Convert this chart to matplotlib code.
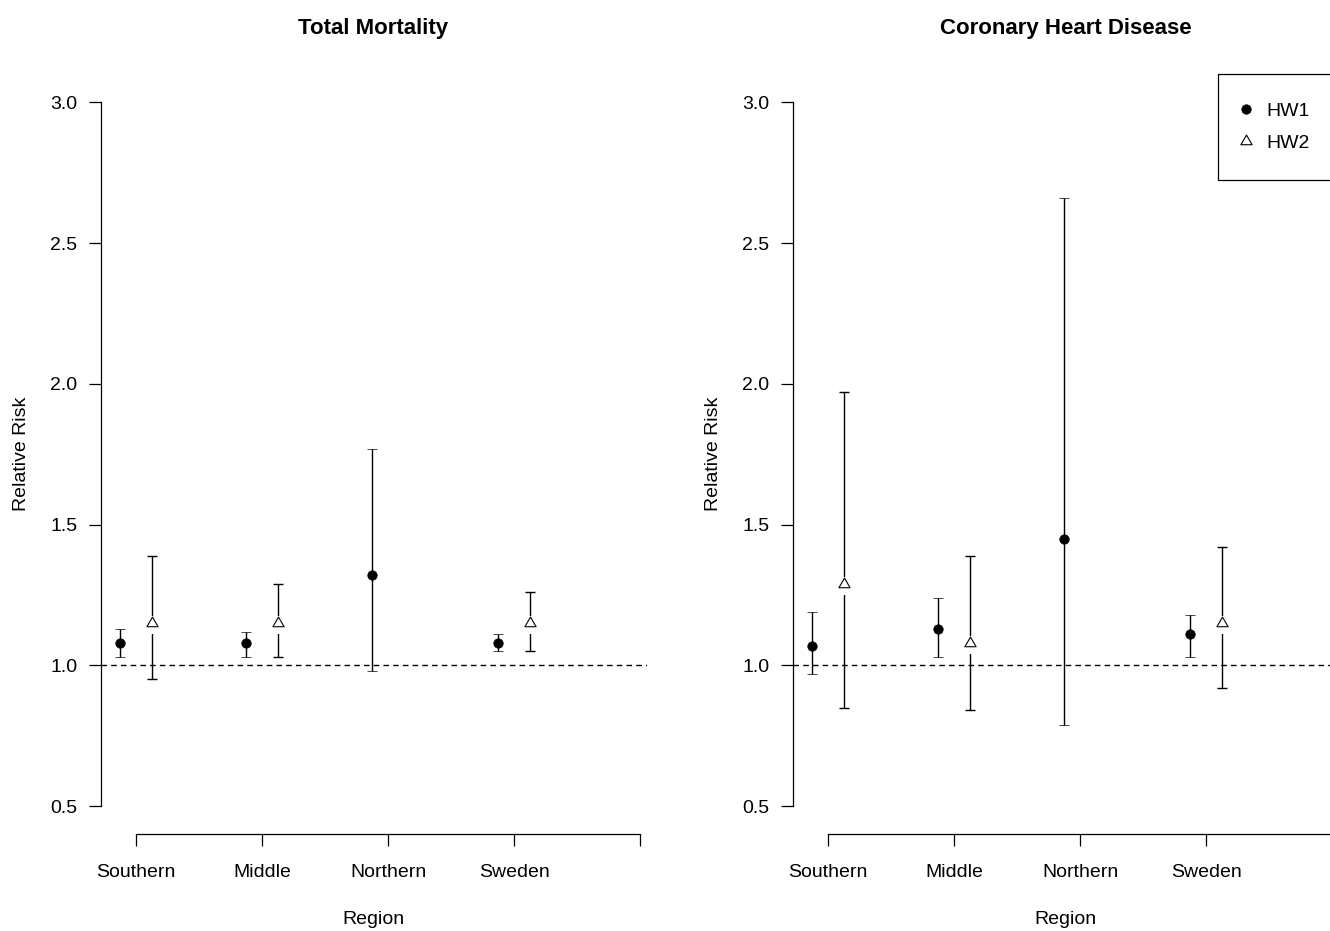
import numpy as np
import matplotlib
matplotlib.use('Agg')
import matplotlib.pyplot as plt
from matplotlib.lines import Line2D
from matplotlib.path import Path

plt.rcParams['font.family'] = ['Liberation Sans', 'DejaVu Sans']

regions = ['Southern', 'Middle', 'Northern', 'Sweden']
titles = ['Total Mortality', 'Coronary Heart Disease']

# total mortality
tm_hw1 = [1.08, 1.08, 1.32, 1.08]
tm_hw1_lo = [1.03, 1.03, 0.98, 1.05]
tm_hw1_hi = [1.13, 1.12, 1.77, 1.11]
tm_hw2 = [1.15, 1.15, np.nan, 1.15]
tm_hw2_lo = [0.95, 1.03, np.nan, 1.05]
tm_hw2_hi = [1.39, 1.29, np.nan, 1.26]

# coronary heart disease
chd_hw1 = [1.07, 1.13, 1.45, 1.11]
chd_hw1_lo = [0.97, 1.03, 0.79, 1.03]
chd_hw1_hi = [1.19, 1.24, 2.66, 1.18]
chd_hw2 = [1.29, 1.08, np.nan, 1.15]
chd_hw2_lo = [0.85, 0.84, np.nan, 0.92]
chd_hw2_hi = [1.97, 1.39, np.nan, 1.42]

yticks = [0.5, 1.0, 1.5, 2.0, 2.5, 3.0]

# triangle with centroid at the data point (like R pch=2)
tri = Path([(0, 1), (0.866, -0.5), (-0.866, -0.5), (0, 1)],
           [Path.MOVETO, Path.LINETO, Path.LINETO, Path.CLOSEPOLY])
# white block that leaves the gap in the CI line around the triangle
gap = Path([(-0.25, -1), (0.25, -1), (0.25, 0.6), (-0.25, 0.6), (-0.25, -1)],
           [Path.MOVETO, Path.LINETO, Path.LINETO, Path.LINETO, Path.CLOSEPOLY])

W, H = 1330, 931
fig = plt.figure(figsize=(W / 100, H / 100), dpi=100)
ax_w = 546 / W
ax_b = (H - 834.3) / H
ax_h = 760 / H
ax1 = fig.add_axes([100.5 / W, ax_b, ax_w, ax_h])
ax2 = fig.add_axes([792.5 / W, ax_b, ax_w, ax_h])


def draw_panel(ax, title, hw1, lo1, hi1, hw2, lo2, hi2):
    x = np.arange(1, len(regions) + 1)
    hw1, lo1, hi1 = np.array(hw1), np.array(lo1), np.array(hi1)
    hw2, lo2, hi2 = np.array(hw2), np.array(lo2), np.array(hi2)

    ax.axhline(1.0, color='black', lw=1.0, ls=(0, (4, 3)), zorder=1)

    ax.errorbar(x - 0.125, hw1, yerr=[hw1 - lo1, hi1 - hw1], fmt='o',
                color='black', ms=6.8, mew=0.5, capsize=3.8,
                elinewidth=1.0, capthick=1.0, zorder=3)

    m = ~np.isnan(hw2)
    x2 = x[m] + 0.125
    ax.errorbar(x2, hw2[m], yerr=[hw2[m] - lo2[m], hi2[m] - hw2[m]],
                fmt='none', ecolor='black', capsize=3.8,
                elinewidth=1.0, capthick=1.0, zorder=2)
    ax.plot(x2, hw2[m], ls='none', marker=gap, ms=16, color='white',
            mec='white', mew=0, zorder=3)
    ax.plot(x2, hw2[m], ls='none', marker=tri, ms=9.3, mfc='white',
            mec='black', mew=0.8, zorder=4)

    ax.set_xlim(0.718, 5.05)
    ax.set_ylim(0.4, 3.1)
    for s in ['top', 'right']:
        ax.spines[s].set_visible(False)
    ax.spines['left'].set_bounds(0.5, 3.0)
    ax.spines['bottom'].set_bounds(1, 5)
    for s in ['left', 'bottom']:
        ax.spines[s].set_linewidth(0.9)

    ax.set_yticks(yticks)
    ax.set_yticklabels(['%.1f' % v for v in yticks])
    ax.set_xticks(list(x) + [5])
    ax.set_xticklabels(regions + [''])
    ax.tick_params(axis='both', length=8.6, width=0.9, labelsize=14)
    ax.tick_params(axis='y', pad=8)
    ax.tick_params(axis='x', pad=12.5)

    ax.set_title(title, fontsize=16, fontweight='bold', pad=29)
    ax.set_ylabel('Relative Risk', fontsize=14)
    ax.set_xlabel('Region', fontsize=14)
    ax.yaxis.set_label_coords(-0.129, 0.5)
    ax.xaxis.set_label_coords(0.5, -0.101)


draw_panel(ax1, titles[0], tm_hw1, tm_hw1_lo, tm_hw1_hi,
           tm_hw2, tm_hw2_lo, tm_hw2_hi)
draw_panel(ax2, titles[1], chd_hw1, chd_hw1_lo, chd_hw1_hi,
           chd_hw2, chd_hw2_lo, chd_hw2_hi)

handles = [Line2D([], [], ls='none', marker='o', color='black', ms=6.8, mew=0.5),
           Line2D([], [], ls='none', marker=tri, ms=9.3, mfc='white',
                  mec='black', mew=0.8)]
leg = ax2.legend(handles, ['HW1', 'HW2'], loc='upper left',
                 bbox_to_anchor=((1218 - 792.5) / 546, 1.0), borderaxespad=0,
                 fontsize=14, frameon=True, fancybox=False, framealpha=1,
                 edgecolor='black', borderpad=1.45, labelspacing=0.75,
                 handlelength=0.0, handletextpad=1.03)
leg.get_frame().set_linewidth(0.9)

fig.savefig('out.png', dpi=100)
